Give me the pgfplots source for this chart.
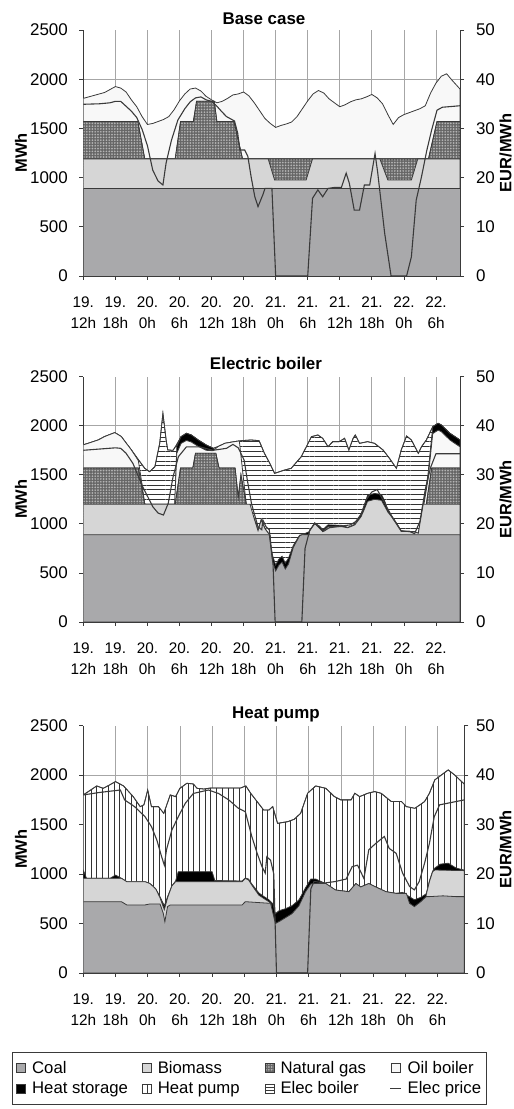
\documentclass[border=0pt]{standalone}
\usepackage{fontspec}
\setmainfont{Liberation Sans}
\usepackage{pgfplots}
\pgfplotsset{compat=1.18}
\usetikzlibrary{patterns,patterns.meta}

\definecolor{coalc}{HTML}{A9A9AB}
\definecolor{bioc}{HTML}{D6D6D6}
\definecolor{oilc}{HTML}{F8F8F8}
\definecolor{ngc}{HTML}{666666}
\definecolor{ngdot}{HTML}{B4B4B4}
\definecolor{linec}{HTML}{3A3A3A}
\definecolor{gridc}{HTML}{A6A6A6}

\newcommand\ytickfont{\fontsize{17}{17}\selectfont}
\newcommand\xtickfont{\fontsize{15.4}{15.4}\selectfont}
\newcommand\labfont{\bfseries\fontsize{16.5}{16.5}\selectfont}
\newcommand\titfont{\bfseries\fontsize{17}{17}\selectfont}
\newcommand\legfont{\fontsize{16.8}{16.8}\selectfont}

% tick labels and axis titles of one panel: #1 bottom, #2 height, #3 6h step
\newcommand\panellabels[3]{%
  \foreach \v in {0,500,1000,1500,2000,2500} {\node[font=\ytickfont,anchor=east] at (71.3bp,{#1bp+\v/2500*#2bp}) {\v};}
  \foreach \v in {0,10,20,30,40,50} {\node[font=\ytickfont,anchor=west] at (472.5bp,{#1bp+\v/50*#2bp}) {\v};}
  \foreach \da/\tb [count=\k from 0] in {19./12h,19./18h,20./0h,20./6h,20./12h,20./18h,21./0h,21./6h,21./12h,21./18h,22./0h,22./6h} {
    \node[font=\xtickfont,anchor=base] at ({83.3bp+\k*#3bp},{#1bp-31.5bp}) {\da};
    \node[font=\xtickfont,anchor=base] at ({83.3bp+\k*#3bp},{#1bp-52.5bp}) {\tb};}
  \node[font=\labfont,rotate=90,anchor=center] at (21bp,{#1bp+0.5*#2bp}) {MWh};
  \node[font=\labfont,rotate=90,anchor=center] at (505.5bp,{#1bp+0.5*#2bp}) {EUR/MWh};
}

\tikzset{ar/.style={draw=linec, line width=0.8bp}}
\pgfplotsset{
  /pgf/number format/assume math mode=true,
  /pgf/number format/1000 sep={},
  leftax/.style={
    scale only axis, anchor=south west,
    xmin=0, xmax=70.5, ymin=0, ymax=2500,
    axis x line*=bottom, axis y line*=left,
    axis line style={linec, line width=0.8bp, -},
    tick style={linec, line width=0.8bp},
    tick align=outside, major tick length=4bp,
    xtick={0,6,...,66}, xticklabels={},
    ytick={0,500,...,2000}, yticklabels={},
    extra y ticks={2500}, extra y tick labels={}, extra y tick style={grid=none},
    xmajorgrids, ymajorgrids, grid style={gridc, line width=0.7bp},
  },
  rightax/.style={
    scale only axis, anchor=south west,
    xmin=0, xmax=70.5, ymin=0, ymax=50,
    axis x line=none, axis y line*=right,
    axis line style={linec, line width=0.8bp, -},
    tick style={linec, line width=0.8bp},
    tick align=outside, major tick length=4bp,
    ytick={0,10,...,50}, yticklabels={},
  },
  oils/.style={forget plot, ar, fill=oilc},
  ngs/.style={forget plot, ar, fill=ngc, postaction={pattern={Dots[distance=2.8bp,radius=0.95bp]}, pattern color=ngdot}},
  hps/.style={forget plot, ar, fill=white, postaction={pattern={Lines[angle=90,distance=5.7bp,line width=0.9bp]}, pattern color=black!80}},
  ebs/.style={forget plot, ar, fill=white, postaction={pattern={Lines[angle=0,distance=4.8bp,line width=0.8bp]}, pattern color=black!80}},
  hss/.style={forget plot, ar, fill=black},
  bios/.style={forget plot, ar, fill=bioc},
  coals/.style={forget plot, ar, fill=coalc},
  prices/.style={forget plot, linec, line width=1.1bp},
}

\begin{document}
\begin{tikzpicture}
% ================= Panel 1: Base case =================
\begin{axis}[leftax, at={(83.3bp,833bp)}, width=376.7bp, height=246bp]
\addplot[oils] coordinates {(0,1805) (2,1835) (4,1865) (5,1895) (6,1925) (7,1910) (8,1870) (9,1790) (10,1720) (11,1620) (12,1540) (13,1550) (14,1570) (15,1590) (16,1620) (17,1690) (18,1780) (19,1850) (20,1900) (21,1910) (22,1880) (23,1825) (24,1790) (25,1760) (26,1775) (27,1805) (28,1840) (29,1850) (30,1870) (31,1830) (32,1760) (33,1680) (34,1600) (35,1550) (36,1510) (37,1530) (38,1545) (39,1565) (40,1620) (41,1700) (42,1780) (43,1850) (44,1885) (45,1860) (46,1800) (47,1760) (48,1720) (49,1740) (50,1770) (51,1790) (52,1800) (53,1820) (54,1845) (55,1810) (56,1750) (57,1640) (58,1540) (59,1610) (60,1640) (61,1660) (62,1680) (63,1700) (64,1730) (65,1860) (66,1960) (67,2030) (68,2055) (69,1990) (70.5,1900)} \closedcycle;
\addplot[ngs] coordinates {(0,1570) (10.2,1570) (11.5,1190) (17.2,1190) (18.2,1570) (20.6,1570) (21.2,1775) (24.5,1775) (25,1570) (28.2,1570) (29.8,1190) (64.6,1190) (66.2,1570) (70.5,1570)} \closedcycle;
\addplot[bios] coordinates {(0,1190) (34.6,1190) (35.8,975) (41.7,975) (42.9,1190) (55.5,1190) (57,975) (61.4,975) (62.6,1190) (70.5,1190)} \closedcycle;
\addplot[coals] coordinates {(0,890) (70.5,890)} \closedcycle;
\end{axis}
\begin{axis}[rightax, at={(83.3bp,833bp)}, width=376.7bp, height=246bp]
\addplot[prices] coordinates {(0,34.9) (3,35) (5,35.2) (6,35.5) (7,35.5) (8,34.5) (9,33.5) (10,32.2) (11,29.8) (12,26.5) (13,21.5) (14,19.3) (14.9,18.5) (15.5,23) (16.5,27.6) (17.7,31.7) (19,34) (20,35.4) (21,36.2) (22,36.4) (23,35.8) (24,35.5) (25,34.5) (26,33.3) (26.8,32.4) (28.3,31.5) (28.9,29) (29.3,25.6) (30.2,25.6) (30.8,24.3) (31.4,20.2) (32.1,16.1) (32.7,14.1) (33.6,16.5) (34,17.8) (35.3,17.8) (36,0) (42,0) (42.9,15.8) (43.9,17.5) (44.8,16.1) (45.8,17.8) (47,18) (48.3,18) (49.2,20.9) (49.8,18.8) (50.7,13.4) (51.7,13.4) (52.6,18.5) (53.6,18.5) (54.6,24.9) (55.1,21) (56.4,8.7) (57.6,0) (60.5,0) (61.4,3.9) (62.3,15.4) (63.3,20.2) (64.3,25.6) (65.2,29.7) (66.2,33.7) (67.2,34.3) (70.5,34.6)};
\end{axis}
\node[font=\titfont, anchor=base] at (264bp,1084bp) {Base case};
\panellabels{833}{246}{32.07}

% ================= Panel 2: Electric boiler =================
\begin{axis}[leftax, at={(83.3bp,487bp)}, width=376.7bp, height=245.3bp]
\addplot[ebs] coordinates {(0,1805) (2.8,1855) (4,1890) (5.9,1930) (7.1,1890) (9,1753) (10.5,1640) (11.5,1566) (12.4,1532) (13.4,1583) (14.3,1821) (14.9,2126) (15.5,1855) (15.8,1753) (16.8,1750) (17.4,1800) (18.3,1889) (19.3,1923) (20.2,1906) (21.5,1855) (23,1804) (24.3,1770) (25.2,1787) (26.5,1821) (28.3,1838) (29.6,1848) (31.4,1855) (32.9,1848) (33.9,1719) (34.9,1617) (35.8,1515) (37.7,1549) (38.9,1566) (40.8,1685) (42.7,1889) (43.9,1906) (44.8,1872) (45.8,1787) (46.7,1838) (47.9,1838) (48.9,1872) (49.7,1753) (50.5,1872) (50.9,1906) (51.7,1821) (53.2,1838) (54.5,1821) (56.1,1753) (57.3,1668) (58.6,1566) (59.5,1753) (60.5,1896) (61.4,1855) (62.7,1719) (63.3,1787) (64.2,1855) (65.4,1991) (66.4,2025) (67,2008) (68.6,1923) (70.5,1855)} \closedcycle;
\addplot[hss] coordinates {(0,1700) (10.3,1550) (11.5,1150) (17.1,1150) (17.5,1790) (18.3,1889) (19.3,1923) (20.2,1906) (21.5,1855) (23,1804) (24.3,1770) (25,1740) (25.5,1650) (29,1650) (30.5,1150) (31.2,1150) (32,1055) (32.7,940) (33.3,1045) (34,955) (34.7,900) (35.4,680) (36,580) (36.6,640) (37.2,670) (37.8,600) (38.4,650) (39.3,780) (40.5,885) (41,890) (42.3,921) (43.3,1012) (44.2,975) (44.8,940) (45.8,990) (48.3,985) (49.5,965) (50.8,995) (52,1095) (52.6,1190) (53.2,1290) (54.5,1310) (55.8,1300) (56.4,1235) (57,1140) (58.3,1035) (59.5,930) (60.8,921) (62,921) (62.7,904) (63.6,1185) (64.5,1500) (65.4,1991) (66.4,2025) (67,2008) (68.6,1923) (70.5,1855)} \closedcycle;
\addplot[oils] coordinates {(0,1805) (2.8,1855) (4,1890) (5.9,1930) (7.1,1890) (9,1753) (10.3,1645) (11,1400) (11.5,1200) (17.1,1200) (17.5,1720) (18.3,1820) (19.3,1850) (20.2,1835) (21.5,1790) (23,1750) (24.3,1745) (25.2,1787) (26.5,1821) (28.3,1838) (29.2,1845) (30.5,1200) (31.2,0) (63,0) (63.6,1150) (64.5,1450) (65.4,1920) (66.4,1955) (67,1940) (68.6,1855) (70.5,1785)} \closedcycle;
\addplot[ngs] coordinates {(0,1570) (10.3,1570) (11.5,1200) (17.2,1200) (18.2,1570) (20.5,1570) (21,1720) (24.8,1720) (25.4,1570) (28.4,1570) (29,1270) (29.5,1500) (30.5,1200) (31.2,1000) (32,0) (63,0) (64.2,1200) (65.2,1570) (70.5,1570)} \closedcycle;
\addplot[bios] coordinates {(0,1200) (31.2,1200) (32,1050) (32.7,930) (33.3,1040) (34,950) (34.7,900) (35,880) (35.5,0) (41.5,0) (42.3,921) (43.3,1006) (44.2,955) (44.8,921) (45.8,972) (48.3,972) (49.5,960) (50.8,989) (52,1074) (52.6,1150) (53.2,1230) (54.5,1250) (55.8,1240) (56.4,1180) (57,1120) (58.3,1030) (59.5,930) (60.8,921) (62,921) (62.7,904) (63.6,1200) (70.5,1200)} \closedcycle;
\addplot[coals] coordinates {(0,890) (34.8,890) (35.4,620) (36,520) (36.6,580) (37.2,610) (37.8,540) (38.4,590) (39.3,760) (40.5,880) (41,890) (70.5,890)} \closedcycle;
\end{axis}
\begin{axis}[rightax, at={(83.3bp,487bp)}, width=376.7bp, height=245.3bp]
\addplot[prices] coordinates {(0,35) (6,35.5) (7,35.4) (8,34.4) (9.3,32.3) (11.1,27.6) (13,23.5) (14,22.2) (15,21.8) (15.9,24.2) (16.8,29.6) (17.8,33.7) (19.3,35.7) (21.8,35.7) (24.3,35) (26.8,35.4) (28,36.2) (29,35.5) (30.1,33) (30.7,28.9) (31.5,24) (32.7,19.4) (33.4,18.8) (33.6,20.8) (34.2,19.4) (34.8,18.8) (35.5,12) (35.9,0) (40.9,0) (41.5,15) (42.4,18.8) (43.3,20) (44.2,19.5) (45,18.5) (46,19.2) (48,19.5) (50,19.8) (51,20.5) (52,22) (53,25) (54,26.5) (55,27) (56,25) (57,23) (58,21) (59.5,18.5) (61,18.5) (62,18) (63,20.5) (64,27) (65,31.5) (66,34.3) (70.5,34.3)};
\end{axis}
\node[font=\titfont, anchor=base] at (266bp,739.1bp) {Electric boiler};
\panellabels{487}{245.3}{32.07}

% ================= Panel 3: Heat pump =================
\begin{axis}[leftax, at={(83.3bp,136bp)}, width=381bp, height=247.3bp, xmax=71,
  legend columns=4,
  legend style={at={(axis description cs:-0.1871,-0.3182)}, anchor=north west,
    draw=linec, line width=0.8bp, fill=white,
    font=\legfont,
    inner xsep=4bp, inner ysep=8bp, row sep=5bp,
    nodes={inner sep=1bp},
    /tikz/every odd column/.append style={column sep=5bp}},
  legend cell align=left]
\addplot[hps] coordinates {(0,1800) (2.5,1891) (3.7,1867) (4.9,1901) (6,1935) (7.5,1891) (9.3,1783) (10.6,1682) (11.3,1700) (12,1850) (12.7,1682) (14,1682) (15,1614) (16.2,1800) (17.2,1783) (18,1867) (19.3,1918) (20.5,1911) (21.2,1867) (22.5,1860) (23.7,1870) (29.3,1870) (30.3,1891) (31.2,1816) (33.6,1648) (34.6,1648) (35.3,1682) (36.2,1513) (38.1,1530) (39.3,1554) (40.5,1614) (41.8,1817) (43.3,1891) (45.2,1867) (46.8,1783) (48,1750) (49.9,1750) (50.6,1817) (51.5,1783) (53,1817) (54.3,1834) (55.5,1817) (57.4,1733) (59.3,1733) (60.2,1682) (61.8,1665) (63.6,1733) (64.5,1817) (65.5,1952) (68,2053) (69.2,2002) (70.5,1935) (71,1911)} \closedcycle;
\addplot[hss] coordinates {(0,1040) (0.6,957) (5,957) (6,990) (7,960) (7.5,945) (8.1,923) (11.5,923) (12.4,905) (13.5,850) (14.3,770) (15.1,680) (15.7,770) (16.5,880) (17.2,930) (17.7,1024) (24,1024) (24.5,935) (29.6,930) (30.2,960) (30.8,950) (31.4,900) (32.7,810) (33.6,775) (34.6,740) (35.3,700) (35.8,600) (36.5,630) (37.7,650) (38.9,680) (40.2,740) (41.4,860) (42.4,950) (43.3,950) (44.5,920) (45.2,904) (47,839) (49.5,822) (50.8,904) (51.7,870) (53.2,904) (54.5,870) (56.4,822) (58.3,805) (59.5,815) (60.8,770) (61.7,740) (62.9,765) (63.9,800) (64.5,930) (65.1,1030) (65.5,1060) (66.5,1100) (68,1110) (69.5,1060) (71,1040)} \closedcycle;
\addplot[bios] coordinates {(0,957) (7.1,957) (8.1,923) (11.5,923) (12.4,905) (13.5,850) (14.3,760) (15.1,640) (15.7,760) (16.5,880) (17.2,923) (29.6,923) (30.2,957) (30.8,940) (31.4,889) (32.7,788) (33.6,755) (34.6,720) (35,700) (35.5,0) (63,0) (63.9,790) (64.5,923) (65.1,1024) (65.5,1041) (71,1035)} \closedcycle;
\addplot[coals] coordinates {(0,721) (7.1,721) (8.1,688) (11.5,688) (12.4,698) (14.3,698) (14.9,604) (15.2,519) (15.7,671) (16.2,688) (29.6,688) (30.2,721) (34.9,704) (35.8,500) (36.5,520) (37.7,560) (38.9,600) (40.2,680) (41.4,820) (42.4,900) (43.3,905) (45.2,904) (47,839) (49.5,822) (50.8,904) (51.7,870) (53.2,904) (54.5,870) (56.4,822) (58.3,805) (60.2,805) (60.8,704) (61.7,671) (62.9,721) (63.9,772) (64.5,772) (67,780) (69.5,772) (71,772)} \closedcycle;
% legend
\addlegendimage{legend image code/.code={\draw[fill=coalc,draw=linec,line width=0.7bp] (0bp,-4.5bp) rectangle (9bp,4.5bp);}}
\addlegendentry{\makebox[109bp][l]{Coal}}
\addlegendimage{legend image code/.code={\draw[fill=bioc,draw=linec,line width=0.7bp] (0bp,-4.5bp) rectangle (9bp,4.5bp);}}
\addlegendentry{\makebox[106bp][l]{Biomass}}
\addlegendimage{legend image code/.code={\draw[fill=ngc,draw=linec,line width=0.7bp,postaction={pattern={Dots[distance=2.8bp,radius=0.95bp]},pattern color=ngdot}] (0bp,-4.5bp) rectangle (9bp,4.5bp);}}
\addlegendentry{\makebox[108bp][l]{Natural gas}}
\addlegendimage{legend image code/.code={\draw[fill=oilc,draw=linec,line width=0.7bp] (0bp,-4.5bp) rectangle (9bp,4.5bp);}}
\addlegendentry{\makebox[74bp][l]{Oil boiler}}
\addlegendimage{legend image code/.code={\draw[fill=black,draw=linec,line width=0.7bp] (0bp,-4.5bp) rectangle (9bp,4.5bp);}}
\addlegendentry{\makebox[109bp][l]{Heat storage}}
\addlegendimage{legend image code/.code={\draw[fill=white,draw=linec,line width=0.7bp] (0bp,-4.5bp) rectangle (9bp,4.5bp); \draw[linec,line width=0.7bp] (4.5bp,-4.5bp) -- (4.5bp,4.5bp);}}
\addlegendentry{\makebox[106bp][l]{Heat pump}}
\addlegendimage{legend image code/.code={\draw[fill=white,draw=linec,line width=0.7bp] (0bp,-4.5bp) rectangle (9bp,4.5bp); \draw[linec,line width=0.6bp] (0bp,-1.5bp) -- (9bp,-1.5bp) (0bp,1.5bp) -- (9bp,1.5bp);}}
\addlegendentry{\makebox[108bp][l]{Elec boiler}}
\addlegendimage{legend image code/.code={\draw[linec,line width=1.1bp] (-1bp,0bp) -- (10bp,0bp);}}
\addlegendentry{\makebox[74bp][l]{Elec price}}
\end{axis}
\begin{axis}[rightax, at={(83.3bp,136bp)}, width=381bp, height=247.3bp, xmax=71]
\addplot[prices] coordinates {(0,36) (3,36.5) (6.9,37) (7.7,35) (9.6,33.6) (11.5,31.6) (12.7,29.6) (13.7,26.9) (14.6,23.5) (15.1,21.8) (15.5,24.9) (16.5,28.9) (17.7,31.6) (19,34.3) (20.5,36.3) (23.3,37) (25.2,36.3) (27.1,35) (28.9,33.3) (30.2,32.6) (31.4,27.6) (32.4,24.2) (33.3,21.5) (33.9,20.2) (34.2,23.5) (34.9,22.8) (35.5,20) (36,0) (41.8,0) (42.4,17) (43,18.5) (45,18.2) (47,18.5) (49,19) (50.1,21.5) (51.1,21.8) (52.3,19.1) (53.2,24.9) (54.5,26.2) (56.1,27.6) (57,25.2) (58.3,24.2) (59.5,20.2) (60.8,17.5) (61.7,16.8) (62.6,18.5) (63.6,22.2) (64.5,26.2) (65.4,31.6) (66.4,34) (71,35)};
\end{axis}
\node[font=\titfont, anchor=base] at (276bp,390.1bp) {Heat pump};
\panellabels{136}{247.3}{32.2}

\pgfresetboundingbox
\path[use as bounding box] (0bp,0bp) rectangle (514bp,1109bp);
\end{tikzpicture}
\end{document}
